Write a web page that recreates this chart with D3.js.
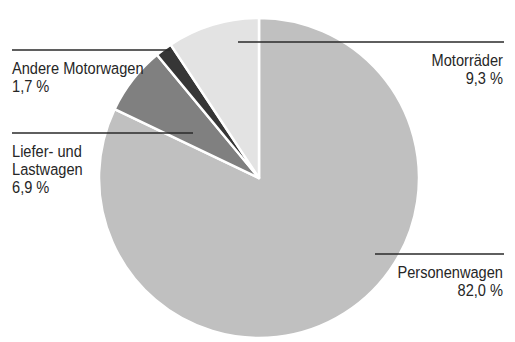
<!DOCTYPE html>
<html><head><meta charset="utf-8">
<script src="https://cdn.jsdelivr.net/npm/d3@7"></script>
<style>
html,body{margin:0;padding:0;background:#fff;}
text{font-family:"Liberation Sans",Arial,sans-serif;font-size:17px;fill:#262626;}
</style></head>
<body><svg id="c" width="515" height="342"></svg>
<script>
const categories = ["Personenwagen", "Liefer- und Lastwagen", "Andere Motorwagen", "Motorräder"];
const values = [82.0, 6.9, 1.7, 9.3];
const valueLabels = ["82,0 %", "6,9 %", "1,7 %", "9,3 %"];
const labelLines = [["Personenwagen"], ["Liefer- und", "Lastwagen"], ["Andere Motorwagen"], ["Motorräder"]];
const colors = ["#c0c0c0", "#808080", "#363636", "#e3e3e3"];

// layout (positions of labels and leader lines)
const layout = [
  {x1: 375, x2: 504, y: 254, anchor: "end", tx: 503},
  {x1: 12, x2: 193, y: 133, anchor: "start", tx: 12},
  {x1: 12, x2: 170, y: 50, anchor: "start", tx: 12},
  {x1: 238, x2: 504, y: 42, anchor: "end", tx: 503}
];

const svg = d3.select("#c");
const cx = 259, cy = 178, r = 160;
const pie = d3.pie().sort(null).value(d => d)(values);
const arc = d3.arc().innerRadius(0).outerRadius(r);
const g = svg.append("g").attr("transform", `translate(${cx},${cy})`);
g.selectAll("path").data(pie).join("path")
  .attr("d", arc)
  .attr("fill", (d, i) => colors[i])
  .attr("stroke", "#fff").attr("stroke-width", 2.5).attr("stroke-linejoin", "round");

categories.forEach((c, i) => {
  const L = layout[i];
  svg.append("line").attr("x1", L.x1).attr("x2", L.x2).attr("y1", L.y).attr("y2", L.y)
    .attr("stroke", "#2a2a2a").attr("stroke-width", 1.3);
  const lines = labelLines[i].concat([valueLabels[i]]);
  const t = svg.append("text").attr("text-anchor", L.anchor)
    .attr("transform", `translate(${L.tx},0) scale(0.86,1)`);
  lines.forEach((s, k) => {
    t.append("tspan").attr("x", 0).attr("y", L.y + 24 + k * 18).text(s);
  });
});
</script></body></html>
